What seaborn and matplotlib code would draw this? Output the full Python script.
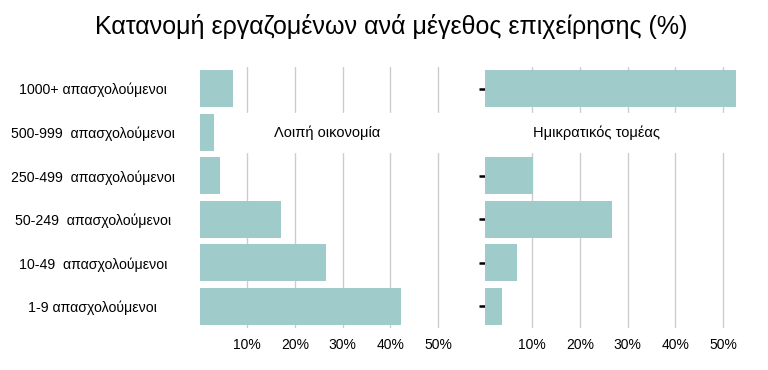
import numpy as np
import pandas as pd
import seaborn as sns
import matplotlib.pyplot as plt
from matplotlib.ticker import FuncFormatter

sns.set_theme(style="white")
plt.rcParams['font.family'] = ['Liberation Sans', 'DejaVu Sans']
plt.rcParams['text.color'] = 'black'
plt.rcParams['xtick.color'] = 'black'
plt.rcParams['ytick.color'] = 'black'

# Δεδομένα
categories = ["1000+ απασχολούμενοι", "500-999  απασχολούμενοι", "250-499  απασχολούμενοι",
              "50-249  απασχολούμενοι", "10-49  απασχολούμενοι", "1-9 απασχολούμενοι"]
loipi = [6.9, 3.1, 4.2, 17.0, 26.6, 42.3]
imikratikos = [52.8, np.nan, 10.1, 26.8, 6.7, 3.6]
panel_names = ["Λοιπή οικονομία", "Ημικρατικός τομέας"]
x_ticks = [10, 20, 30, 40, 50]

title = "Κατανομή εργαζομένων ανά μέγεθος επιχείρησης (%)"
bar_color = "#9fcbca"

df = pd.DataFrame({
    "category": categories * 2,
    "value": loipi + imikratikos,
    "sector": [panel_names[0]] * len(categories) + [panel_names[1]] * len(categories),
})

fig = plt.figure(figsize=(7.68, 3.70), dpi=100)
ax_left = fig.add_axes([0.260, 0.113, 0.332, 0.706])
ax_right = fig.add_axes([0.631, 0.113, 0.332, 0.706])

label_x = [26.8, 23.5]
for i, (ax, name) in enumerate(zip([ax_left, ax_right], panel_names)):
    sub = df[df["sector"] == name]
    sns.barplot(data=sub, x="value", y="category", order=categories, color=bar_color,
                saturation=1, width=0.85, orient="h", ax=ax, zorder=3, linewidth=0)
    ax.set_axisbelow(True)
    ax.grid(axis="x", color="#cccccc", linewidth=1)
    ax.grid(axis="y", visible=False)
    # λευκή λωρίδα πίσω από την ετικέτα του τομέα
    ax.axhspan(0.55, 1.45, color="white", zorder=1)
    ax.text(label_x[i], 1, name, ha="center", va="center", fontsize=10.5, zorder=4)
    ax.set_xlim(0, 53.5)
    ax.set_ylim(5.5, -0.5)
    ax.set_xticks(x_ticks)
    ax.xaxis.set_major_formatter(FuncFormatter(lambda v, p: f"{v:.0f}%"))
    ax.tick_params(axis="x", length=3, width=1.5, color="black", labelsize=10, pad=4)
    ax.set_xlabel("")
    ax.set_ylabel("")
    sns.despine(ax=ax, left=True, bottom=True)

# ετικέτες κατηγοριών κεντραρισμένες αριστερά
ax_left.tick_params(axis="y", length=0, labelsize=10.2, pad=77)
for lab in ax_left.get_yticklabels():
    lab.set_horizontalalignment("center")

ax_right.set_yticks([0, 2, 3, 4, 5])
ax_right.set_yticklabels([])
ax_right.tick_params(axis="y", left=True, length=4, width=1.8, color="black")

fig.suptitle(title, fontsize=18, x=0.51, y=0.962)

fig.savefig("out.png", dpi=100)
